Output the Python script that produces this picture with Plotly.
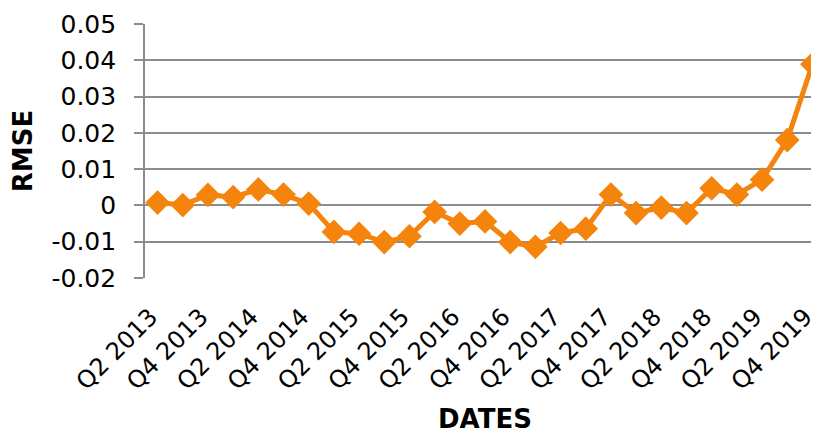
import plotly.graph_objects as go

quarters = []
for yr in range(2013, 2020):
    for q in range(1, 5):
        if yr == 2013 and q == 1:
            continue
        quarters.append(f"Q{q} {yr}")

rmse = [0.0008, 0.0001, 0.0029, 0.0023, 0.0044, 0.0030, 0.0005, -0.0073,
        -0.0078, -0.0101, -0.0085, -0.0018, -0.0050, -0.0044, -0.0101, -0.0114,
        -0.0076, -0.0064, 0.0030, -0.0021, -0.0006, -0.0021, 0.0047, 0.0030,
        0.0071, 0.0180, 0.0389]

y_ticks = [-0.02, -0.01, 0, 0.01, 0.02, 0.03, 0.04, 0.05]
y_labels = ["-0.02", "-0.01", "0", "0.01", "0.02", "0.03", "0.04", "0.05"]

orange = "#F5840C"
grid = "#8C8C8C"
font = "DejaVu Sans"

idx = list(range(len(quarters)))

fig = go.Figure()
fig.add_trace(go.Scatter(
    x=idx, y=rmse, mode="lines+markers",
    line=dict(color=orange, width=5),
    marker=dict(symbol="diamond", size=19, color=orange),
    showlegend=False, cliponaxis=False,
))

fig.update_layout(
    width=819, height=437,
    margin=dict(l=137, r=2, t=16, b=167),
    paper_bgcolor="white", plot_bgcolor="white",
    font=dict(family=font, color="#000000"),
    xaxis=dict(
        range=[-0.5, 26.5],
        tickmode="array",
        tickvals=idx[::2],
        ticktext=quarters[::2],
        tickangle=-45,
        tickfont=dict(size=24, family=font),
        showgrid=False, zeroline=False, showline=False,
        ticks="", ticklabelstandoff=19, ticklabelshift=-7,
        ticklabeloverflow="allow",
        automargin=False,
        title=dict(text="<b>DATES</b>", font=dict(size=26, family=font), standoff=15),
    ),
    xaxis2=dict(
        overlaying="x", anchor="free", position=2 / 7,
        range=[-0.5, 26.5],
        tickmode="array",
        tickvals=[i + 0.5 for i in idx[:-1]],
        showticklabels=False,
        ticks="outside", ticklen=7, tickwidth=1.5, tickcolor=grid,
        showgrid=False, zeroline=False, showline=False,
        side="bottom", automargin=False,
    ),
    yaxis=dict(
        range=[-0.02, 0.05],
        tickmode="array", tickvals=y_ticks, ticktext=y_labels,
        tickfont=dict(size=25, family=font),
        showgrid=True, gridcolor=grid, gridwidth=1.6,
        zeroline=False,
        showline=True, linecolor=grid, linewidth=1.6,
        ticks="outside", ticklen=9, tickwidth=1.6, tickcolor=grid,
        ticklabelstandoff=13,
        automargin=False,
        title=dict(text="<b>RMSE</b>", font=dict(size=26, family=font), standoff=14),
    ),
)

fig.write_html("out.html")
